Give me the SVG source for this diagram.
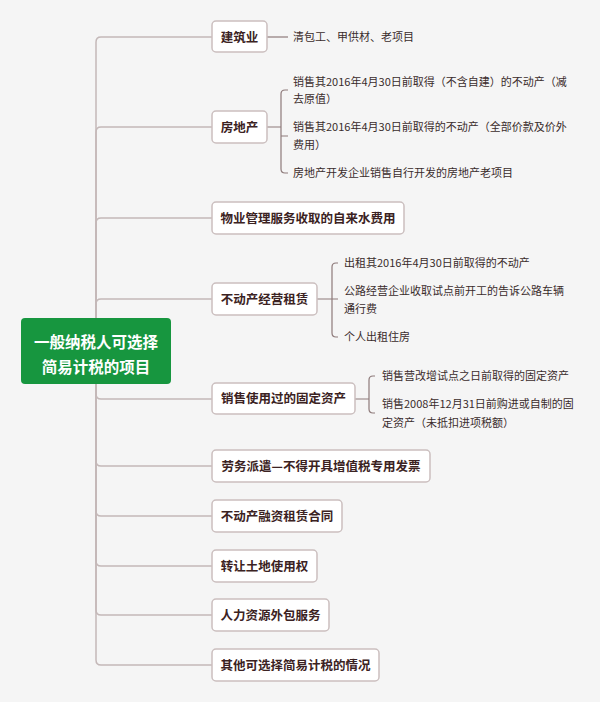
<svg xmlns="http://www.w3.org/2000/svg" width="600" height="702" viewBox="0 0 600 702">
<style>
.bg{fill:#f5f5f5}
.trunk{fill:none;stroke:#c4b8b8;stroke-width:1.5}
.leafl{fill:none;stroke:#8e7a7a;stroke-width:1.2}
.box{fill:#ffffff;stroke:#cbbfbf;stroke-width:1.5}
.root{fill:#17963f}
.rt{font-family:"Noto Sans CJK SC",sans-serif;font-size:15.5px;font-weight:bold;fill:#ffffff;text-anchor:middle}
.bt{font-family:"Noto Sans CJK SC",sans-serif;font-size:12.5px;font-weight:bold;fill:#3b2222;text-anchor:middle}
.lt{font-family:"Noto Sans CJK SC",sans-serif;font-size:11px;fill:#3a2c2c}
</style>
<rect class="bg" x="0" y="0" width="600" height="702"/>
<g id="connectors">
<path class="trunk" d="M96,351 V42 Q96,37 101,37 H212"/>
<path class="trunk" d="M96,351 V132 Q96,127 101,127 H212"/>
<path class="trunk" d="M96,351 V223 Q96,218 101,218 H212"/>
<path class="trunk" d="M96,351 V304 Q96,299 101,299 H212"/>
<path class="trunk" d="M96,351 V394 Q96,399 101,399 H212"/>
<path class="trunk" d="M96,351 V461 Q96,466 101,466 H212"/>
<path class="trunk" d="M96,351 V511 Q96,516 101,516 H212"/>
<path class="trunk" d="M96,351 V561 Q96,566 101,566 H212"/>
<path class="trunk" d="M96,351 V610 Q96,615 101,615 H212"/>
<path class="trunk" d="M96,351 V660 Q96,665 101,665 H212"/>
<path class="leafl" d="M267,37 H288"/>
<path class="leafl" d="M267,127 H281 M288,90 H285 Q281,90 281,94 V169 Q281,173 285,173 H288 M281,136 H288"/>
<path class="leafl" d="M317,299 H338 M338,263 H336 Q332,263 332,267 V333 Q332,337 336,337 H338"/>
<path class="leafl" d="M355,399 H369 M375,376 H373 Q369,376 369,380 V409 Q369,413 373,413 H375"/>
</g>
<g id="root">
<rect class="root" x="21" y="318" width="150" height="66" rx="4"/>
<text class="rt" x="96" y="347.5">一般纳税人可选择</text>
<text class="rt" x="96" y="372.5">简易计税的项目</text>
</g>
<g id="n1">
<rect class="box" x="212" y="21" width="55" height="31" rx="4"/>
<text class="bt" x="239.5" y="41.5">建筑业</text>
</g>
<g id="n1-leaf">
<text class="lt" x="293" y="41">清包工、甲供材、老项目</text>
</g>
<g id="n2">
<rect class="box" x="212" y="111" width="55" height="32" rx="4"/>
<text class="bt" x="239.5" y="131.5">房地产</text>
</g>
<g id="n2-leaf">
<text class="lt" x="293" y="86">销售其2016年4月30日前取得（不含自建）的不动产（减</text>
<text class="lt" x="293" y="103">去原值）</text>
<text class="lt" x="293" y="131">销售其2016年4月30日前取得的不动产（全部价款及价外</text>
<text class="lt" x="293" y="149">费用）</text>
<text class="lt" x="293" y="177">房地产开发企业销售自行开发的房地产老项目</text>
</g>
<g id="n3">
<rect class="box" x="212" y="202" width="192" height="32" rx="4"/>
<text class="bt" x="308" y="222.5">物业管理服务收取的自来水费用</text>
</g>
<g id="n4">
<rect class="box" x="212" y="283" width="105" height="32" rx="4"/>
<text class="bt" x="264.5" y="303.5">不动产经营租赁</text>
</g>
<g id="n4-leaf">
<text class="lt" x="344" y="267">出租其2016年4月30日前取得的不动产</text>
<text class="lt" x="344" y="295">公路经营企业收取试点前开工的告诉公路车辆</text>
<text class="lt" x="344" y="313">通行费</text>
<text class="lt" x="344" y="341">个人出租住房</text>
</g>
<g id="n5">
<rect class="box" x="212" y="383" width="143" height="31" rx="4"/>
<text class="bt" x="283.5" y="403">销售使用过的固定资产</text>
</g>
<g id="n5-leaf">
<text class="lt" x="382" y="380">销售营改增试点之日前取得的固定资产</text>
<text class="lt" x="382" y="408">销售2008年12月31日前购进或自制的固</text>
<text class="lt" x="382" y="427">定资产（未抵扣进项税额）</text>
</g>
<g id="n6">
<rect class="box" x="212" y="450" width="218" height="32" rx="4"/>
<text class="bt" x="321" y="470.5">劳务派遣—不得开具增值税专用发票</text>
</g>
<g id="n7">
<rect class="box" x="212" y="500" width="130" height="32" rx="4"/>
<text class="bt" x="277" y="520.5">不动产融资租赁合同</text>
</g>
<g id="n8">
<rect class="box" x="212" y="550" width="105" height="32" rx="4"/>
<text class="bt" x="264.5" y="570.5">转让土地使用权</text>
</g>
<g id="n9">
<rect class="box" x="212" y="599" width="117" height="32" rx="4"/>
<text class="bt" x="270.5" y="619.5">人力资源外包服务</text>
</g>
<g id="n10">
<rect class="box" x="212" y="649" width="167" height="32" rx="4"/>
<text class="bt" x="295.5" y="669.5">其他可选择简易计税的情况</text>
</g>
</svg>
